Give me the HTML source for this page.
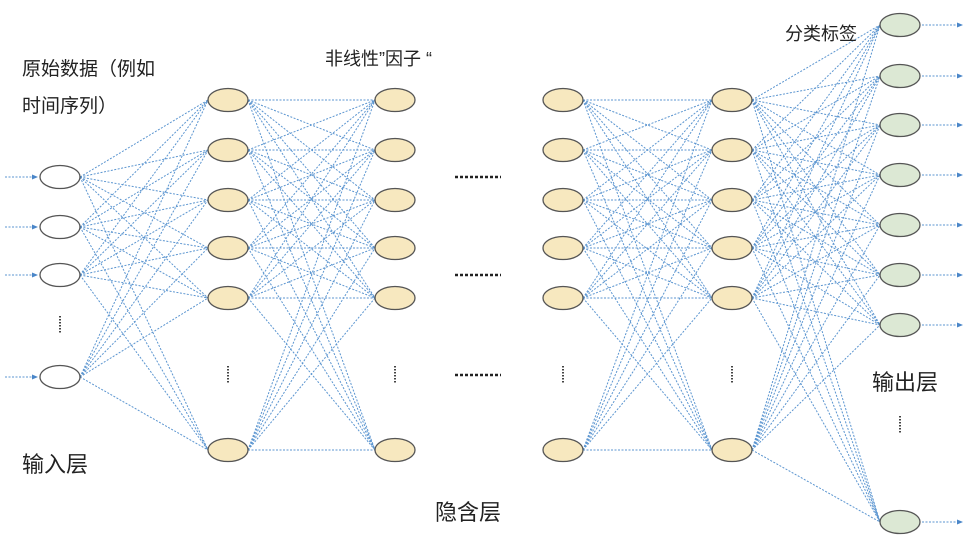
<!DOCTYPE html>
<html><head><meta charset="utf-8"><style>
body{margin:0;background:#fff;width:972px;height:546px;overflow:hidden}
text{font-family:"Liberation Sans","Noto Sans CJK SC",sans-serif;fill:#222}
</style></head><body>
<svg id="s" width="972" height="546" xmlns="http://www.w3.org/2000/svg">
<defs><marker id="a" markerWidth="6" markerHeight="6" refX="5" refY="3" orient="auto"><path d="M0,0.5L6,3L0,5.5z" fill="#4a86c8"/></marker></defs>
<g id="lines" stroke="#5b95d0" stroke-width="1" stroke-dasharray="2,1.5" fill="none"></g>
<g id="nodes"></g>
<text x="22" y="75" font-size="19">原始数据（例如</text>
<text x="22" y="112" font-size="19">时间序列）</text>
<text x="325" y="65" font-size="18">非线性”因子 “</text>
<text x="785" y="40" font-size="18">分类标签</text>
<text x="22" y="472" font-size="22">输入层</text>
<text x="435" y="520" font-size="22">隐含层</text>
<text x="872" y="390" font-size="22">输出层</text>
<g stroke="#222" stroke-width="2.5" stroke-dasharray="3,2">
<line x1="455" y1="177" x2="501" y2="177"/><line x1="455" y1="275" x2="501" y2="275"/><line x1="455" y1="375" x2="501" y2="375"/>
</g>
</svg>
<script>
const L=document.getElementById('lines'),N=document.getElementById('nodes'),ns='http://www.w3.org/2000/svg';
function el(t,a,p){const e=document.createElementNS(ns,t);for(const k in a)e.setAttribute(k,a[k]);p.appendChild(e);return e;}
const hy=[100,150,200,248,298,450];
const layers=[
 {x:60,ys:[177,227,275,377],c:'#fff',dot:325},
 {x:228,ys:hy,c:'#f7e8bf',dot:375},
 {x:395,ys:hy,c:'#f7e8bf',dot:375},
 {x:563,ys:hy,c:'#f7e8bf',dot:375},
 {x:732,ys:hy,c:'#f7e8bf',dot:375},
 {x:900,ys:[25,76,125,175,225,275,325,522],c:'#dce8d4',dot:425}];
for(let i=0;i<layers.length-1;i++){
 if(i==2)continue;
 const A=layers[i],B=layers[i+1];
 for(const y1 of A.ys)for(const y2 of B.ys)el('line',{x1:A.x+20,y1:y1,x2:B.x-20,y2:y2},L);
}
for(const y of layers[0].ys)el('line',{x1:5,y1:y,x2:37,y2:y,'marker-end':'url(#a)'},L);
for(const y of layers[5].ys)el('line',{x1:922,y1:y,x2:962,y2:y,'marker-end':'url(#a)'},L);
for(const l of layers){
 for(const y of l.ys)el('ellipse',{cx:l.x,cy:y,rx:20,ry:11.5,fill:l.c,stroke:'#555','stroke-width':1.3},N);
 el('line',{x1:l.x,y1:l.dot-9,x2:l.x,y2:l.dot+9,stroke:'#444','stroke-width':2,'stroke-dasharray':'1.5,1.5'},N);
}
</script>
</body></html>
